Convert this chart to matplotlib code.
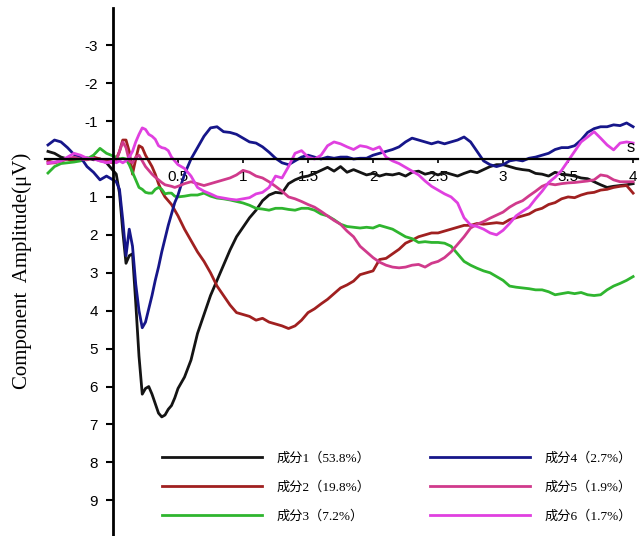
import matplotlib.pyplot as plt
import numpy as np

# time axis (s): 0.05 s steps, 0.025 s steps over the fast early part
t = np.round(np.r_[np.arange(-0.5, -0.001, 0.05),
                   np.arange(0.0, 0.499, 0.025),
                   np.arange(0.5, 4.001, 0.05)], 3)

c1 = [-0.2, -0.15, -0.05, 0.0, 0.05, 0.02, -0.03, 0.02, 0.0, 0.1,
      0.3, 0.4, 0.9, 1.9, 2.75, 2.55, 2.5, 3.8, 5.2, 6.2, 6.05, 6.0, 6.2, 6.45, 6.7, 6.8, 6.75, 6.6, 6.5, 6.3,
      6.05, 5.75, 5.3, 4.6, 4.1, 3.6, 3.2, 2.8, 2.4, 2.05,
      1.8, 1.55, 1.35, 1.1, 0.95, 0.88, 0.9, 0.65, 0.55, 0.48,
      0.45, 0.38, 0.3, 0.22, 0.32, 0.2, 0.35, 0.28, 0.35, 0.42,
      0.38, 0.45, 0.4, 0.42, 0.38, 0.45, 0.35, 0.32, 0.4, 0.36,
      0.42, 0.35, 0.4, 0.45, 0.38, 0.32, 0.36, 0.28, 0.2, 0.15,
      0.15, 0.2, 0.25, 0.28, 0.3, 0.38, 0.4, 0.45, 0.35, 0.4,
      0.42, 0.45, 0.5, 0.52, 0.6, 0.68, 0.75, 0.72, 0.7, 0.68, 0.65]
c2 = [0.05, 0.1, 0.05, 0.0, 0.05, 0.0, 0.02, -0.05, 0.0, 0.05,
      0.05, 0.0, -0.2, -0.5, -0.5, -0.2, 0.4, 0.0, -0.35, -0.3, -0.1, 0.05, 0.2, 0.4, 0.65, 0.85, 1.0, 1.1, 1.2, 1.35,
      1.5, 1.85, 2.15, 2.45, 2.7, 3.0, 3.35, 3.6, 3.85, 4.05,
      4.1, 4.15, 4.25, 4.2, 4.3, 4.35, 4.4, 4.47, 4.4, 4.25,
      4.05, 3.95, 3.82, 3.7, 3.55, 3.4, 3.32, 3.22, 3.05, 3.0,
      2.95, 2.65, 2.62, 2.5, 2.38, 2.22, 2.14, 2.05, 2.0, 1.95,
      1.95, 1.9, 1.85, 1.8, 1.75, 1.75, 1.7, 1.72, 1.7, 1.68,
      1.7, 1.6, 1.55, 1.5, 1.45, 1.35, 1.3, 1.2, 1.15, 1.05,
      1.0, 1.02, 0.95, 0.9, 0.88, 0.82, 0.8, 0.75, 0.72, 0.7, 0.9]
c3 = [0.37, 0.2, 0.12, 0.1, 0.08, 0.05, 0.0, -0.1, -0.28, -0.15,
      -0.08, -0.05, 0.0, -0.02, 0.0, 0.15, 0.35, 0.55, 0.75, 0.8, 0.88, 0.9, 0.9, 0.8, 0.75, 0.8, 0.92, 0.9, 0.9, 0.98,
      1.0, 0.98, 0.95, 0.95, 0.9, 0.98, 1.03, 1.05, 1.08, 1.12,
      1.16, 1.22, 1.3, 1.32, 1.35, 1.3, 1.3, 1.33, 1.35, 1.3,
      1.3, 1.35, 1.45, 1.5, 1.6, 1.72, 1.78, 1.8, 1.82, 1.8,
      1.82, 1.75, 1.8, 1.85, 1.95, 2.05, 2.1, 2.2, 2.18, 2.2,
      2.2, 2.22, 2.3, 2.5, 2.7, 2.8, 2.88, 2.95, 3.0, 3.1,
      3.2, 3.35, 3.38, 3.4, 3.42, 3.45, 3.45, 3.5, 3.58, 3.55,
      3.52, 3.55, 3.52, 3.58, 3.6, 3.58, 3.45, 3.35, 3.28, 3.2, 3.1]
c4 = [-0.37, -0.5, -0.45, -0.3, -0.12, -0.05, 0.2, 0.35, 0.55, 0.45,
      0.55, 0.6, 0.8, 1.6, 2.55, 1.85, 2.3, 3.3, 4.0, 4.45, 4.3, 3.95, 3.6, 3.2, 2.85, 2.45, 2.1, 1.75, 1.45, 1.15,
      0.95, 0.4, 0.0, -0.3, -0.6, -0.82, -0.85, -0.72, -0.7, -0.65,
      -0.55, -0.45, -0.42, -0.32, -0.18, -0.02, 0.1, 0.15, 0.05, -0.05,
      -0.1, -0.05, 0.0, -0.05, -0.02, -0.05, -0.05, 0.0, -0.02, -0.02,
      -0.1, -0.15, -0.2, -0.25, -0.32, -0.45, -0.55, -0.5, -0.45, -0.4,
      -0.45, -0.4, -0.45, -0.5, -0.58, -0.45, -0.2, 0.05, 0.15, 0.2,
      0.15, 0.05, 0.02, 0.05, -0.02, -0.05, -0.1, -0.15, -0.25, -0.3,
      -0.3, -0.35, -0.5, -0.7, -0.8, -0.85, -0.85, -0.9, -0.88, -0.95, -0.85]
c5 = [0.12, 0.1, 0.05, 0.0, -0.05, 0.0, 0.02, -0.02, 0.05, 0.08,
      0.1, 0.05, -0.2, -0.45, -0.3, 0.05, 0.1, -0.05, -0.1, 0.05, 0.2, 0.3, 0.4, 0.48, 0.55, 0.62, 0.68, 0.7, 0.72, 0.75,
      0.72, 0.65, 0.6, 0.65, 0.7, 0.65, 0.6, 0.55, 0.5, 0.42,
      0.3, 0.35, 0.45, 0.5, 0.6, 0.72, 0.85, 1.0, 1.05, 1.12,
      1.2, 1.27, 1.38, 1.5, 1.62, 1.72, 1.9, 2.05, 2.3, 2.45,
      2.6, 2.72, 2.8, 2.85, 2.87, 2.85, 2.8, 2.78, 2.85, 2.75,
      2.7, 2.6, 2.45, 2.25, 2.05, 1.82, 1.72, 1.65, 1.56, 1.48,
      1.4, 1.27, 1.17, 1.1, 0.97, 0.85, 0.72, 0.65, 0.68, 0.65,
      0.63, 0.62, 0.6, 0.58, 0.55, 0.42, 0.45, 0.55, 0.6, 0.6, 0.6]
c6 = [0.1, 0.08, 0.05, -0.05, -0.15, -0.1, -0.02, 0.0, 0.05, 0.1,
      0.05, 0.1, 0.05, 0.1, 0.05, -0.05, -0.2, -0.45, -0.65, -0.82, -0.78, -0.65, -0.6, -0.52, -0.35, -0.3, -0.28, -0.22, -0.05, 0.05,
      0.15, 0.25, 0.45, 0.75, 0.85, 0.92, 1.0, 1.03, 1.06, 1.08,
      1.05, 1.02, 0.92, 0.88, 0.75, 0.45, 0.5, 0.2, -0.15, -0.22,
      -0.05, 0.0, -0.1, -0.35, -0.45, -0.4, -0.32, -0.25, -0.35, -0.32,
      -0.25, -0.32, -0.05, 0.05, 0.12, 0.22, 0.32, 0.42, 0.58, 0.72,
      0.82, 0.92, 1.0, 1.16, 1.55, 1.74, 1.78, 1.85, 1.95, 2.0,
      1.88, 1.7, 1.5, 1.38, 1.27, 1.05, 0.85, 0.62, 0.48, 0.3,
      0.05, -0.2, -0.45, -0.58, -0.72, -0.55, -0.37, -0.24, -0.42, -0.45, -0.42]

labels = ["成分1（53.8%）", "成分2（19.8%）", "成分3（7.2%）",
          "成分4（2.7%）", "成分5（1.9%）", "成分6（1.7%）"]
colors = ["#141414", "#a02020", "#2fb52f", "#16168a", "#d03a8c", "#e040e0"]
series = [c1, c2, c3, c4, c5, c6]

yticks = [-3, -2, -1, 1, 2, 3, 4, 5, 6, 7, 8, 9]
xticks = [0.5, 1, 1.5, 2, 2.5, 3, 3.5, 4]
xticklabels = ["0.5", "1", "1.5", "2", "2.5", "3", "3.5", "4"]

fig = plt.figure(figsize=(6.41, 5.36), dpi=100)
ax = fig.add_axes([0.0708, 0.0, 0.925, 0.985])

for y, c, lab in zip(series, colors, labels):
    ax.plot(t, y, color=c, lw=2.0, label=lab)

ax.set_xlim(-0.52, 4.04)
ax.set_ylim(9.94, -3.98)
ax.spines[["left", "bottom"]].set_position(("data", 0))
ax.spines[["top", "right"]].set_visible(False)
ax.spines["left"].set_linewidth(2.0)
ax.spines["bottom"].set_linewidth(1.6)

ax.set_yticks(yticks)
ax.set_yticklabels([str(v) for v in yticks], family="Liberation Sans", fontsize=11)
ax.set_xticks(xticks)
ax.set_xticklabels(xticklabels, family="Liberation Sans", fontsize=11)
ax.tick_params(axis="y", direction="out", length=5, width=1.5, pad=6)
ax.tick_params(axis="x", direction="out", length=3, width=1.2, pad=5)

ax.text(3.98, -0.1, "s", ha="center", va="bottom", family="Liberation Sans", fontsize=12)

fig.text(0.034, 1 - 271 / 536, "Component  Amplitude(μV)", rotation=90,
         ha="center", va="center", family="Liberation Serif", fontsize=15)

ax.legend(ncol=2, loc="upper left", bbox_to_anchor=(162 / 641, 1 - 452 / 536),
          bbox_transform=fig.transFigure, frameon=False, borderpad=0, borderaxespad=0,
          handlelength=7.6, handletextpad=1.1, columnspacing=4.5, labelspacing=1.26,
          prop={"family": ["Liberation Serif", "Noto Sans CJK SC"], "size": 9.5})

fig.savefig("out.png", dpi=100)
